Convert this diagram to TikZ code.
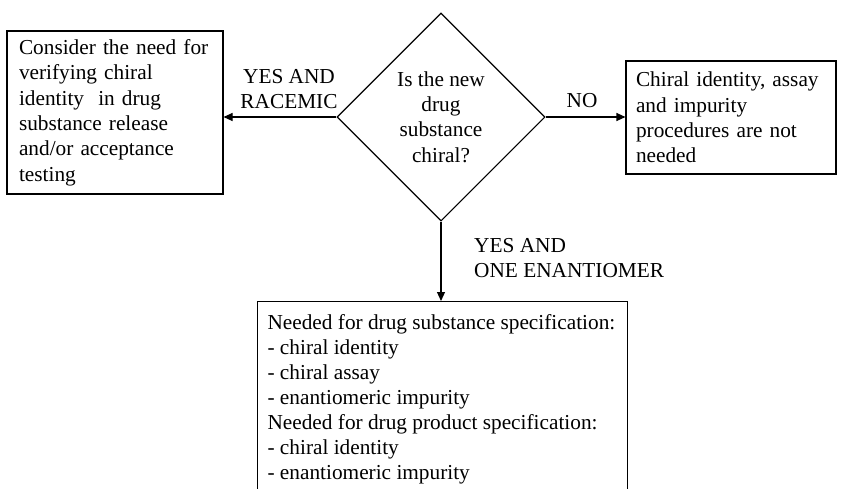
\documentclass[tikz,border=0pt]{standalone}
\usepackage{fontspec}
\setmainfont{Liberation Serif}
\usetikzlibrary{shapes.geometric,arrows.meta}
\newcommand\oneline[1]{\mbox{#1}}
\tikzset{
  box/.style={draw=black, line width=1.1pt, align=left, inner xsep=10pt, inner ysep=6pt},
  lbl/.style={inner sep=0pt},
  conn/.style={line width=1.1pt, -{Triangle[length=9pt,width=8pt]}},
  txt/.style={font=\fontsize{21.3}{25.4}\selectfont}
}
\begin{document}
\begin{tikzpicture}[x=1pt,y=-1pt]
\useasboundingbox (0,0) rectangle (842,488);
\clip (0,0) rectangle (842,488);
% decision
\node[draw=black, line width=1.1pt, shape=diamond, minimum width=208pt, minimum height=208pt, inner sep=0pt, align=center, txt] (dec) at (441,117)
  {Is the new\\drug\\substance\\chiral?};
% left box
\node[box, txt, minimum width=216pt, minimum height=163pt, inner xsep=12pt, text width=192pt] (left) at (115,112.5)
  {\oneline{Consider the need for}\\\oneline{verifying chiral}\\\oneline{identity\ \ in drug}\\\oneline{substance release}\\\oneline{and/or acceptance}\\\oneline{testing}};
% right box
\node[box, txt, minimum width=210pt, minimum height=113pt, inner xsep=10pt, text width=190pt] (right) at (731,117.5)
  {\oneline{Chiral identity, assay}\\\oneline{and impurity}\\\oneline{procedures are not}\\\oneline{needed}};
% bottom box
\node[box, anchor=north west, inner xsep=10pt, inner ysep=12.5pt] (bot) at (257,301)
  {\parbox[t][240pt][t]{350pt}{\fontsize{21.3}{25}\selectfont
   \oneline{Needed for drug substance specification:}\\
   \oneline{- chiral identity}\\
   \oneline{- chiral assay}\\
   \oneline{- enantiomeric impurity}\\
   \oneline{Needed for drug product specification:}\\
   \oneline{- chiral identity}\\
   \oneline{- enantiomeric impurity}}};
% connectors
\draw[conn] (dec.west) -- (dec.west -| left.east);
\draw[conn] (dec.east) -- (dec.east -| right.west);
\draw[conn] (dec.south) -- (dec.south |- bot.north);
% labels
\node[lbl, txt, align=center] (lracemic) at (289,89) {YES AND\\RACEMIC};
\node[lbl, txt] (lno) at (582,101) {NO};
\node[lbl, txt, align=left, anchor=west] (lone) at (474,258) {YES AND\\ONE ENANTIOMER};
\end{tikzpicture}
\end{document}
